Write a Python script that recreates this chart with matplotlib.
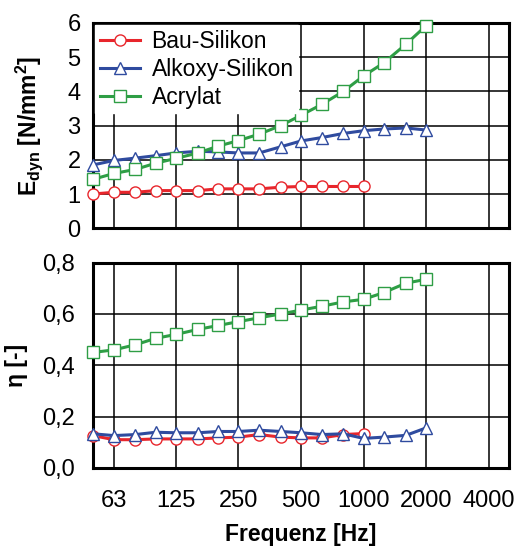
import numpy as np
import matplotlib
matplotlib.use("Agg")
import matplotlib.pyplot as plt
from matplotlib.ticker import FixedLocator, FixedFormatter, FuncFormatter

plt.rcParams['font.family'] = ['Liberation Sans', 'DejaVu Sans']
plt.rcParams['mathtext.fontset'] = 'custom'
plt.rcParams['mathtext.rm'] = 'Liberation Sans:bold'
plt.rcParams['mathtext.default'] = 'rm'

# third-octave band centre frequencies [Hz]
freq = [50, 63, 80, 100, 125, 160, 200, 250, 315, 400, 500, 630, 800,
        1000, 1250, 1600, 2000]
freq_bau = freq[:14]

# dynamic modulus E_dyn [N/mm^2]
e_bau = [1.0, 1.05, 1.05, 1.1, 1.1, 1.1, 1.15, 1.15, 1.15, 1.2, 1.22, 1.22,
         1.22, 1.22]
e_alkoxy = [1.85, 1.98, 2.05, 2.12, 2.2, 2.25, 2.23, 2.2, 2.2, 2.38, 2.55,
            2.65, 2.77, 2.85, 2.9, 2.93, 2.87]
e_acrylat = [1.43, 1.6, 1.72, 1.9, 2.04, 2.2, 2.4, 2.56, 2.75, 3.0, 3.3, 3.62,
             4.0, 4.45, 4.83, 5.38, 5.92]

# loss factor eta [-]
eta_bau = [0.126, 0.11, 0.11, 0.113, 0.113, 0.113, 0.117, 0.12, 0.13, 0.12,
           0.117, 0.117, 0.13, 0.134]
eta_alkoxy = [0.133, 0.126, 0.13, 0.139, 0.137, 0.137, 0.142, 0.142, 0.147,
              0.142, 0.137, 0.13, 0.133, 0.115, 0.12, 0.127, 0.156]
eta_acrylat = [0.45, 0.46, 0.48, 0.505, 0.52, 0.54, 0.555, 0.57, 0.585, 0.6,
               0.615, 0.63, 0.647, 0.657, 0.683, 0.72, 0.735]

xticks = [63, 125, 250, 500, 1000, 2000, 4000]
labels = ['Bau-Silikon', 'Alkoxy-Silikon', 'Acrylat']

red = '#e8262c'
blue = '#2f4b9f'
green = '#2e9e45'

fig = plt.figure(figsize=(5.14, 5.46), dpi=100)
ax1 = fig.add_axes([0.181, 0.582, 0.809, 0.376])
ax2 = fig.add_axes([0.181, 0.143, 0.809, 0.376])

style = dict(linewidth=2.2, markersize=8, markerfacecolor='white',
             markeredgewidth=1.0, clip_on=False, zorder=3)


def setup(ax):
    ax.set_xscale('log')
    ax.set_xlim(50, 5000)
    ax.xaxis.set_major_locator(FixedLocator(xticks))
    ax.xaxis.set_minor_locator(FixedLocator([]))
    ax.grid(True, color='black', linewidth=1.1)
    ax.set_axisbelow(True)
    for s in ax.spines.values():
        s.set_linewidth(2.2)
    ax.tick_params(length=0, labelsize=17)


setup(ax1)
ax1.plot(freq_bau, e_bau, marker='o', color=red, label=labels[0], **style)
ax1.plot(freq, e_alkoxy, marker='^', color=blue, label=labels[1], **style)
ax1.plot(freq, e_acrylat, marker='s', color=green, label=labels[2], **style)
ax1.set_ylim(0, 6)
ax1.set_yticks(range(0, 7))
ax1.set_xticklabels([])
ax1.tick_params(axis='y', pad=9)
ax1.set_ylabel(r'E$_{dyn}$ [N/mm$^{2}$]', fontsize=16.5, fontweight='bold',
               labelpad=16)
leg = ax1.legend(loc='upper left', fontsize=16.5, frameon=True, fancybox=False,
                 borderaxespad=0.1, handlelength=1.75, labelspacing=0.22,
                 borderpad=0.2, handletextpad=0.5)
leg.get_frame().set_edgecolor('white')
leg.get_frame().set_alpha(1.0)

setup(ax2)
ax2.plot(freq_bau, eta_bau, marker='o', color=red, **style)
ax2.plot(freq, eta_alkoxy, marker='^', color=blue, **style)
ax2.plot(freq, eta_acrylat, marker='s', color=green, **style)
ax2.set_ylim(0, 0.8)
ax2.set_yticks([0, 0.2, 0.4, 0.6, 0.8])
ax2.yaxis.set_major_formatter(FuncFormatter(lambda v, p: f'{v:.1f}'.replace('.', ',')))
ax2.xaxis.set_major_formatter(FixedFormatter([str(t) for t in xticks]))
ax2.tick_params(axis='y', pad=13)
ax2.tick_params(axis='x', pad=16)
ax2.set_ylabel('η [-]', fontsize=16.5, fontweight='bold', labelpad=10)
ax2.set_xlabel('Frequenz [Hz]', fontsize=16.5, fontweight='bold', labelpad=8)

fig.savefig('out.png', dpi=100)
